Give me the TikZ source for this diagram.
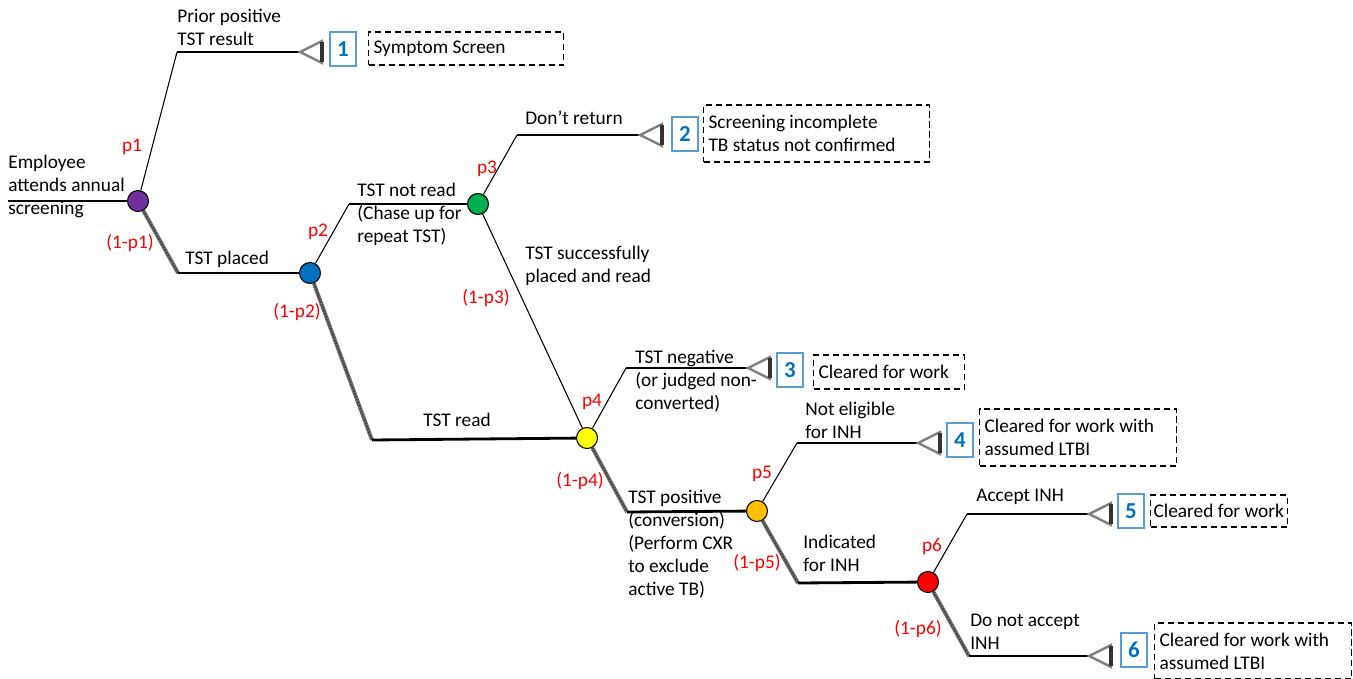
\documentclass[tikz,border=0pt]{standalone}
\usepackage{fontspec}
\setmainfont{Carlito}
\usetikzlibrary{positioning}
\definecolor{tpurple}{HTML}{7030A0}
\definecolor{tblue}{HTML}{0070C0}
\definecolor{tgreen}{HTML}{00B050}
\definecolor{tyellow}{HTML}{FFFF00}
\definecolor{torange}{HTML}{FFC000}
\definecolor{tred}{HTML}{FF0000}
\definecolor{numblue}{HTML}{0070C0}
\definecolor{numframe}{HTML}{5B9BD5}

\begin{document}
\begin{tikzpicture}[x=0.02cm, y=-0.02cm, font=\fontsize{11}{13}\selectfont,
  chance/.style={circle, draw, line width=0.6pt, minimum size=0.42cm, inner sep=0pt},
  arm/.style={line width=0.6pt},
  stem/.style={line width=1.2pt},
  taken/.style={draw=gray!85!black, line width=2.2pt, postaction={draw=black!75, line width=1pt, dash pattern=on 0.9pt off 0.9pt}},
  prob/.style={text=red, inner sep=0pt},
  lbl/.style={align=left, anchor=north west, inner sep=0pt},
  leaf/.style={draw=gray, line width=1.4pt, line join=miter},
  leafbase/.style={draw=black!80, line width=2.2pt},
  numbox/.style={draw=numframe, line width=0.8pt, text=numblue, font=\fontsize{13}{15}\selectfont\bfseries, minimum width=0.52cm, minimum height=0.68cm, inner sep=0pt},
  result/.style={draw, line width=0.6pt, dash pattern=on 3.5pt off 2.2pt, anchor=west, align=left, inner xsep=0.1cm, inner ysep=0pt,
    execute at begin node={\spaceskip=0pt\xspaceskip=0pt}}]
  \useasboundingbox (0,0) rectangle (1353,679);

  % chance nodes
  \node[chance, fill=tpurple] (n1) at (138,201) {};
  \node[chance, fill=tblue] (n2) at (310,273) {};
  \node[chance, fill=tgreen] (n3) at (478,204) {};
  \node[chance, fill=tyellow] (n4) at (587,438) {};
  \node[chance, fill=torange] (n5) at (757,511) {};
  \node[chance, fill=tred] (n6) at (928,582) {};

  % kinks and end points
  \coordinate (start) at (8,201);
  \coordinate (k1u) at (177,52);
  \coordinate (k1d) at (178,273);
  \coordinate (k2u) at (349,204);
  \coordinate (k2d) at (372,440);
  \coordinate (k3u) at (517,135);
  \coordinate (k4u) at (626,368);
  \coordinate (k4d) at (627,512);
  \coordinate (k5u) at (797,443);
  \coordinate (k5d) at (798,583);
  \coordinate (k6u) at (967,514);
  \coordinate (k6d) at (969,656);
  \coordinate (t1) at (300,52);
  \coordinate (t2) at (640,135);
  \coordinate (t3) at (748,368);
  \coordinate (t4) at (918,443);
  \coordinate (t5) at (1089,514);
  \coordinate (t6) at (1089,656);

  % branches
  \draw[stem] (start) -- (n1);
  \draw[arm] (n1) -- (k1u);
  \draw[stem] (k1u) -- (t1);
  \draw[taken] (n1) -- (k1d);
  \draw[line width=1.6pt] (k1d) -- (n2);
  \draw[arm] (n2) -- (k2u);
  \draw[stem] (k2u) -- (n3);
  \draw[taken] (n2) -- (k2d);
  \draw[line width=1.6pt] (k2d) -- (n4);
  \draw[arm] (n3) -- (k3u);
  \draw[stem] (k3u) -- (t2);
  \draw[arm] (n3) -- (n4);
  \draw[arm] (n4) -- (k4u);
  \draw[stem] (k4u) -- (t3);
  \draw[taken] (n4) -- (k4d);
  \draw[line width=1.6pt] (k4d) -- (n5);
  \draw[arm] (n5) -- (k5u);
  \draw[stem] (k5u) -- (t4);
  \draw[taken] (n5) -- (k5d);
  \draw[line width=1.6pt] (k5d) -- (n6);
  \draw[arm] (n6) -- (k6u);
  \draw[stem] (k6u) -- (t5);
  \draw[taken] (n6) -- (k6d);
  \draw[line width=1.6pt] (k6d) -- (t6);

  % terminal triangles
  \foreach \t in {t1,t2,t3,t4,t5,t6} {
    \draw[leaf] (\t) -- ++(22,-11) -- ++(0,22) -- cycle;
    \draw[leafbase] ([shift={(22,-10)}]\t) -- ([shift={(22,10)}]\t);
  }

  % outcome numbers
  \node[numbox] (b1) at (343,49) {1};
  \node[numbox] (b2) at (685,134) {2};
  \node[numbox] (b3) at (790,370) {3};
  \node[numbox] (b4) at (960,440) {4};
  \node[numbox] (b5) at (1131,511) {5};
  \node[numbox] (b6) at (1134,650) {6};

  % outcomes
  \node[result, minimum width=3.9cm, minimum height=0.66cm, text width=3.7cm] (r1) at (368,48.5) {Symptom Screen};
  \node[result, minimum width=4.52cm, minimum height=1.14cm, text width=4.32cm] (r2) at (703,133.5) {Screening incomplete\\TB status not confirmed};
  \node[result, minimum width=3.02cm, minimum height=0.68cm, text width=2.82cm] (r3) at (813,372) {Cleared for work};
  \node[result, minimum width=3.94cm, minimum height=1.14cm, text width=3.74cm] (r4) at (979,437.5) {Cleared for work with\\assumed LTBI};
  \node[result, inner xsep=0.06cm, minimum height=0.64cm, text width=2.62cm] (r5) at (1150,511) {Cleared for work};
  \node[result, minimum width=3.94cm, minimum height=1.12cm, text width=3.74cm] (r6) at (1154,651) {Cleared for work with\\assumed LTBI};

  % branch labels
  \node[lbl] (l0) at (8,155) {Employee\\attends annual\\screening};
  \node[lbl] (l1) at (177,9) {Prior positive\\TST result};
  \node[lbl] (l2) at (185,251) {TST placed};
  \node[lbl] (l3) at (357,183) {TST not read\\(Chase up for\\repeat TST)};
  \node[lbl] (l4) at (525,111) {Don’t return};
  \node[lbl] (l5) at (525,246) {TST successfully\\placed and read};
  \node[lbl] (l6) at (423,413) {TST read};
  \node[lbl] (l7) at (635,350) {TST negative\\(or judged non-\\converted)};
  \node[lbl] (l8) at (805,402) {Not eligible\\for INH};
  \node[lbl] (l9) at (628,490) {TST positive\\(conversion)\\(Perform CXR\\to exclude\\active TB)};
  \node[lbl] (l10) at (803,535) {Indicated\\for INH};
  \node[lbl] (l11) at (976,489) {Accept INH};
  \node[lbl] (l12) at (970,614) {Do not accept\\INH};

  % probabilities
  \node[prob] (p1) at (132,147) {p1};
  \node[prob] (q1) at (130,243) {(1-p1)};
  \node[prob] (p2) at (318,232) {p2};
  \node[prob] (q2) at (297,312) {(1-p2)};
  \node[prob] (p3) at (487,169) {p3};
  \node[prob] (q3) at (486,298) {(1-p3)};
  \node[prob] (p4) at (592,402) {p4};
  \node[prob] (q4) at (580,481) {(1-p4)};
  \node[prob] (p5) at (762,474) {p5};
  \node[prob] (q5) at (757,563) {(1-p5)};
  \node[prob] (p6) at (932,547) {p6};
  \node[prob] (q6) at (918,629) {(1-p6)};
\end{tikzpicture}
\end{document}
